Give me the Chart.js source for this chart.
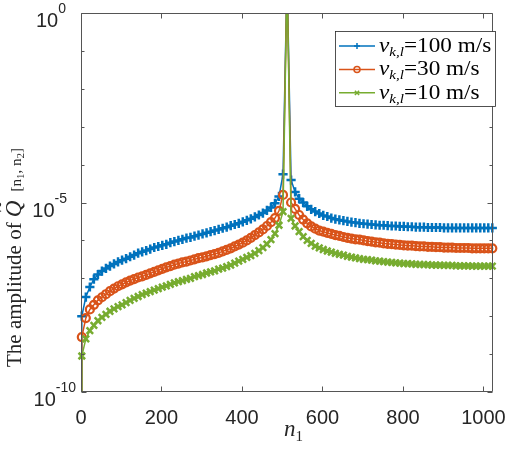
<!DOCTYPE html>
<html>
<head>
<meta charset="utf-8">
<script src="https://cdn.jsdelivr.net/npm/chart.js@4.4.0/dist/chart.umd.min.js"></script>
<style>
html, body { margin: 0; padding: 0; background: #fff; }
canvas { display: block; }
</style>
</head>
<body>
<canvas id="chart" width="520" height="450"></canvas>
<script>
// sample index n1 (markers every 10 samples, spike at 512)
const n1 = [0, 2, 12, 22, 32, 42, 52, 62, 72, 82, 92, 102, 112, 122, 132, 142, 152, 162, 172, 182, 192,
  202, 212, 222, 232, 242, 252, 262, 272, 282, 292, 302, 312, 322, 332, 342, 352, 362, 372, 382, 392,
  402, 412, 422, 432, 442, 452, 462, 472, 482, 492, 502, 512, 522, 532, 542, 552, 562, 572, 582, 592,
  602, 612, 622, 632, 642, 652, 662, 672, 682, 692, 702, 712, 722, 732, 742, 752, 762, 772, 782, 792,
  802, 812, 822, 832, 842, 852, 862, 872, 882, 892, 902, 912, 922, 932, 942, 952, 962, 972, 982, 992,
  1002, 1012, 1022];

// v = 100 m/s
const amp100 = [1e-15,
  1.0e-8, 3.2e-8, 5.9e-8, 9.5e-8, 1.26e-7, 1.55e-7, 1.82e-7, 2.1e-7, 2.4e-7, 2.7e-7,
  3.0e-7, 3.3e-7, 3.7e-7, 4.1e-7, 4.6e-7, 5.0e-7, 5.4e-7, 5.9e-7, 6.5e-7, 6.9e-7,
  7.4e-7, 7.9e-7, 8.7e-7, 9.3e-7, 1.0e-6, 1.07e-6, 1.15e-6, 1.2e-6, 1.29e-6, 1.38e-6,
  1.48e-6, 1.58e-6, 1.7e-6, 1.82e-6, 1.95e-6, 2.09e-6, 2.24e-6, 2.45e-6, 2.63e-6, 2.82e-6,
  3.09e-6, 3.39e-6, 3.72e-6, 4.17e-6, 4.68e-6, 5.25e-6, 6.17e-6, 7.41e-6, 9.55e-6, 1.45e-5,
  5.6e-5, 10, 3.9e-5, 1.9e-5, 1.26e-5, 1.0e-5, 7.94e-6, 6.6e-6, 5.75e-6, 5.13e-6,
  4.57e-6, 4.27e-6, 3.89e-6, 3.63e-6, 3.47e-6, 3.31e-6, 3.16e-6, 3.02e-6, 2.95e-6, 2.82e-6,
  2.75e-6, 2.69e-6, 2.63e-6, 2.57e-6, 2.51e-6, 2.51e-6, 2.45e-6, 2.40e-6, 2.40e-6, 2.34e-6,
  2.34e-6, 2.29e-6, 2.29e-6, 2.24e-6, 2.24e-6, 2.24e-6, 2.19e-6, 2.19e-6, 2.19e-6, 2.19e-6,
  2.14e-6, 2.14e-6, 2.14e-6, 2.14e-6, 2.14e-6, 2.14e-6, 2.14e-6, 2.14e-6, 2.14e-6, 2.14e-6,
  2.14e-6, 2.14e-6, 2.14e-6];

// v = 30 m/s
const amp30 = [1e-15,
  2.82e-9, 8.91e-9, 1.51e-8, 2.00e-8, 2.63e-8, 3.16e-8, 3.80e-8, 4.57e-8, 5.37e-8, 6.17e-8,
  6.92e-8, 7.76e-8, 8.71e-8, 9.55e-8, 1.05e-7, 1.12e-7, 1.23e-7, 1.35e-7, 1.48e-7, 1.62e-7,
  1.78e-7, 1.95e-7, 2.09e-7, 2.29e-7, 2.45e-7, 2.63e-7, 2.75e-7, 2.95e-7, 3.16e-7, 3.39e-7,
  3.55e-7, 3.80e-7, 4.07e-7, 4.37e-7, 4.68e-7, 5.13e-7, 5.62e-7, 6.17e-7, 6.92e-7, 7.76e-7,
  8.71e-7, 1.00e-6, 1.17e-6, 1.38e-6, 1.62e-6, 1.95e-6, 2.40e-6, 3.02e-6, 3.89e-6, 6.03e-6,
  1.58e-5, 10, 1.00e-5, 6.76e-6, 4.68e-6, 3.55e-6, 2.82e-6, 2.34e-6, 2.04e-6, 1.82e-6,
  1.70e-6, 1.58e-6, 1.48e-6, 1.38e-6, 1.32e-6, 1.23e-6, 1.17e-6, 1.12e-6, 1.07e-6, 1.05e-6,
  1.00e-6, 9.55e-7, 9.33e-7, 8.91e-7, 8.71e-7, 8.32e-7, 8.13e-7, 7.94e-7, 7.76e-7, 7.59e-7,
  7.41e-7, 7.24e-7, 7.24e-7, 7.08e-7, 6.92e-7, 6.92e-7, 6.76e-7, 6.76e-7, 6.61e-7, 6.61e-7,
  6.46e-7, 6.46e-7, 6.46e-7, 6.31e-7, 6.31e-7, 6.31e-7, 6.31e-7, 6.17e-7, 6.17e-7, 6.17e-7,
  6.17e-7, 6.17e-7, 6.17e-7];

// v = 10 m/s
const amp10 = [1e-15,
  8.91e-10, 2.51e-9, 4.17e-9, 5.75e-9, 7.59e-9, 9.33e-9, 1.12e-8, 1.35e-8, 1.55e-8, 1.78e-8,
  2.00e-8, 2.29e-8, 2.63e-8, 2.95e-8, 3.31e-8, 3.72e-8, 4.07e-8, 4.47e-8, 4.90e-8, 5.37e-8,
  5.89e-8, 6.31e-8, 6.92e-8, 7.59e-8, 8.13e-8, 8.71e-8, 9.33e-8, 1.00e-7, 1.10e-7, 1.17e-7,
  1.26e-7, 1.38e-7, 1.48e-7, 1.58e-7, 1.74e-7, 1.86e-7, 2.04e-7, 2.24e-7, 2.51e-7, 2.82e-7,
  3.16e-7, 3.55e-7, 3.98e-7, 4.57e-7, 5.37e-7, 6.46e-7, 7.94e-7, 1.05e-6, 1.51e-6, 2.51e-6,
  5.75e-6, 10, 3.80e-6, 2.40e-6, 1.70e-6, 1.26e-6, 1.00e-6, 8.32e-7, 7.08e-7, 6.31e-7,
  5.75e-7, 5.25e-7, 4.90e-7, 4.57e-7, 4.27e-7, 4.07e-7, 3.80e-7, 3.63e-7, 3.47e-7, 3.31e-7,
  3.16e-7, 3.09e-7, 3.02e-7, 2.88e-7, 2.82e-7, 2.75e-7, 2.69e-7, 2.63e-7, 2.57e-7, 2.51e-7,
  2.45e-7, 2.45e-7, 2.40e-7, 2.34e-7, 2.34e-7, 2.29e-7, 2.29e-7, 2.24e-7, 2.24e-7, 2.24e-7,
  2.19e-7, 2.19e-7, 2.19e-7, 2.14e-7, 2.14e-7, 2.14e-7, 2.14e-7, 2.09e-7, 2.09e-7, 2.09e-7,
  2.09e-7, 2.09e-7, 2.09e-7];

const speeds = ['100', '30', '10'];
const xTicks = [0, 200, 400, 600, 800, 1000];
const yTickExps = [-10, -5, 0];

const ink = '#262626';
const serif = '"Liberation Serif", "DejaVu Serif", serif';
const sans = '"Liberation Sans", Arial, sans-serif';
const colors = ['#0072BD', '#D95319', '#77AC30'];
const styles = ['cross', 'circle', 'crossRot'];

function toPoints(ys) {
    return ys.map((v, i) => ({ x: n1[i], y: v }));
}

function makeSet(ys, i) {
    return {
        label: speeds[i] + ' m/s',
        data: toPoints(ys),
        borderColor: colors[i],
        backgroundColor: 'rgba(0,0,0,0)',
        borderWidth: 1.5,
        pointStyle: styles[i],
        pointRadius: i === 1 ? 4 : 4.6,
        pointBorderWidth: i === 1 ? 2.2 : 2.5,
        pointBorderColor: colors[i],
        pointBackgroundColor: 'rgba(0,0,0,0)',
        tension: 0,
        order: 2 - i,
        clip: { left: 6, right: 6, top: 0, bottom: 0 }
    };
}

// draws a run of text pieces left to right, sx stretches glyphs sideways
function drawRun(ctx, parts, x, y, sx) {
    sx = sx || 1;
    for (const [t, f, dy] of parts) {
        ctx.font = f;
        ctx.save();
        ctx.translate(x, y + (dy || 0));
        ctx.scale(sx, 1);
        ctx.fillText(t, 0, 0);
        ctx.restore();
        x += ctx.measureText(t).width * sx;
    }
    return x;
}

const decorations = {
    id: 'decorations',
    afterDatasetsDraw(chart) {
        const { ctx, chartArea: a, scales: { x, y } } = chart;
        ctx.save();

        // box and inward ticks
        ctx.strokeStyle = '#555';
        ctx.lineWidth = 1;
        const L = Math.round(a.left) + 0.5, R = Math.round(a.right) - 0.5;
        const T = Math.round(a.top) + 0.5, B = Math.round(a.bottom) - 0.5;
        ctx.beginPath();
        ctx.rect(L, T, R - L, B - T);
        xTicks.forEach(v => {
            const px = Math.round(x.getPixelForValue(v)) + 0.5;
            ctx.moveTo(px, B); ctx.lineTo(px, B - 5);
            ctx.moveTo(px, T); ctx.lineTo(px, T + 5);
        });
        for (let e = -10; e <= 0; e++) {
            const py = Math.round(y.getPixelForValue(Math.pow(10, e))) + 0.5;
            const len = yTickExps.includes(e) ? 5 : 3;
            ctx.moveTo(L, py); ctx.lineTo(L + len, py);
            ctx.moveTo(R, py); ctx.lineTo(R - len, py);
        }
        ctx.stroke();

        // y tick labels 10^e
        ctx.fillStyle = ink;
        ctx.textBaseline = 'alphabetic';
        const rightEdge = { '-10': 76, '-5': 67, '0': 66 };
        yTickExps.forEach(e => {
            const py = y.getPixelForValue(Math.pow(10, e));
            const exp = String(e);
            ctx.font = '20px ' + sans;
            const wb = ctx.measureText('10').width;
            ctx.font = '14px ' + sans;
            const we = ctx.measureText(exp).width;
            const x0 = rightEdge[exp] - we - wb;
            drawRun(ctx, [['10', '20px ' + sans, 14], [exp, '14px ' + sans, 0]], x0, py);
        });

        // x axis title n_1
        ctx.textAlign = 'left';
        drawRun(ctx, [['n', 'italic 23px ' + serif, 0], ['1', '15px ' + serif, 5]], 284, 436);

        // y axis title
        ctx.save();
        ctx.translate(21, 367);
        ctx.rotate(-Math.PI / 2);
        let cx = drawRun(ctx, [['The amplitude of ', '21px ' + serif, 0]], 0, 0);
        ctx.font = 'italic 23px ' + serif;
        const qw = ctx.measureText('Q').width;
        ctx.fillText('Q', cx, 0);
        ctx.font = '20px ' + serif;
        ctx.fillText('~', cx + qw * 0.3, -15);
        cx += qw + 9;
        drawRun(ctx, [
            ['[n', '15px ' + serif, 0], ['1', '11px ' + serif, 3],
            [', n', '15px ' + serif, 0], ['2', '11px ' + serif, 3],
            [']', '15px ' + serif, 0]
        ], cx, 0);
        ctx.restore();

        // legend
        const bx = 335.5, by = 31.5, bw = 160, bh = 75;
        ctx.fillStyle = '#fff';
        ctx.fillRect(bx, by, bw, bh);
        ctx.strokeStyle = ink;
        ctx.lineWidth = 0.8;
        ctx.strokeRect(bx, by, bw, bh);
        speeds.forEach((s, i) => {
            const ry = 46 + i * 23.4;
            ctx.strokeStyle = colors[i];
            ctx.lineWidth = 1.5;
            ctx.beginPath();
            ctx.moveTo(339, ry); ctx.lineTo(375, ry);
            ctx.stroke();
            ctx.fillStyle = 'rgba(0,0,0,0)';
            Chart.helpers.drawPoint(ctx, { pointStyle: styles[i], radius: 3, borderWidth: 1.6, rotation: 0 }, 357, ry);
            ctx.fillStyle = '#000';
            drawRun(ctx, [
                ['v', 'italic 20px ' + serif, 0],
                ['k,l', 'italic 13px ' + serif, 4],
                ['=' + s + ' m/s', '20px ' + serif, 0]
            ], 379, ry + 6, 1.16);
        });

        ctx.restore();
    }
};

new Chart(document.getElementById('chart'), {
    type: 'line',
    data: {
        datasets: [makeSet(amp100, 0), makeSet(amp30, 1), makeSet(amp10, 2)]
    },
    options: {
        responsive: false,
        animation: false,
        devicePixelRatio: 1,
        layout: { padding: { left: 0, top: 13, right: 13, bottom: 0 } },
        plugins: { legend: { display: false }, tooltip: { enabled: false } },
        scales: {
            x: {
                type: 'linear',
                min: 0,
                max: 1024,
                grid: { display: false, drawTicks: false },
                border: { display: false },
                afterBuildTicks: s => { s.ticks = xTicks.map(v => ({ value: v })); },
                afterFit: s => { s.height = 58; },
                ticks: {
                    color: ink,
                    font: { family: 'Liberation Sans', size: 20 },
                    padding: 14,
                    maxRotation: 0,
                    callback: v => String(v)
                }
            },
            y: {
                type: 'logarithmic',
                min: 1e-10,
                max: 1,
                grid: { display: false, drawTicks: false },
                border: { display: false },
                ticks: { display: false },
                afterFit: s => { s.width = 81; }
            }
        }
    },
    plugins: [decorations]
});
</script>
</body>
</html>
